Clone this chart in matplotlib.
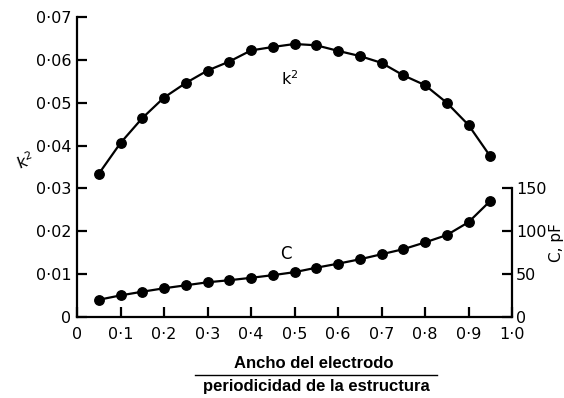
import matplotlib
matplotlib.use("Agg")
import matplotlib.pyplot as plt
from matplotlib.lines import Line2D

# Electrode width / structure period
ratio = [0.05, 0.10, 0.15, 0.20, 0.25, 0.30, 0.35, 0.40, 0.45, 0.50,
         0.55, 0.60, 0.65, 0.70, 0.75, 0.80, 0.85, 0.90, 0.95]
# Electromechanical coupling coefficient k^2
k2 = [0.0334, 0.0406, 0.0464, 0.0512, 0.0546, 0.0575, 0.0596, 0.0622, 0.0630, 0.0637,
      0.0634, 0.0621, 0.0609, 0.0593, 0.0564, 0.0541, 0.0500, 0.0448, 0.0375]
# Capacitance, pF
cap = [20.1, 25.2, 29.5, 33.5, 37.0, 40.5, 42.9, 45.7, 48.8, 52.3,
       57.5, 62.2, 67.3, 73.2, 79.1, 87.0, 95.6, 110.6, 135.4]

x_ticks = [0.0, 0.1, 0.2, 0.3, 0.4, 0.5, 0.6, 0.7, 0.8, 0.9, 1.0]
x_tick_labels = ["0", "0·1", "0·2", "0·3", "0·4", "0·5", "0·6", "0·7", "0·8", "0·9", "1·0"]
k2_ticks = [0.0, 0.01, 0.02, 0.03, 0.04, 0.05, 0.06, 0.07]
k2_tick_labels = ["0", "0·01", "0·02", "0·03", "0·04", "0·05", "0·06", "0·07"]
c_ticks = [0, 50, 100, 150]
c_tick_labels = ["0", "50", "100", "150"]

plt.rcParams["font.family"] = ["DejaVu Sans"]

fig = plt.figure(figsize=(5.64, 3.98), dpi=100)
ax = fig.add_axes([77 / 564, 1 - 317 / 398, 435 / 564, 300 / 398])
ax2 = ax.twinx()

lw = 1.6
tick_fs = 11.5

# k^2 curve
ax.plot(ratio, k2, color="black", lw=lw, marker="o", ms=6.8, clip_on=False, zorder=3)
ax.set_xlim(0, 1.0)
ax.set_ylim(0, 0.07)

# Capacitance curve on the right scale (0-150 pF spans 0-0.03 of the left)
ax2.plot(ratio, cap, color="black", lw=lw, marker="o", ms=6.8, clip_on=False, zorder=3)
ax2.set_ylim(0, 350)

for a in (ax, ax2):
    for s in a.spines.values():
        s.set_linewidth(lw)
ax.spines["top"].set_visible(False)
ax.spines["right"].set_visible(False)
ax2.spines["top"].set_visible(False)
ax2.spines["left"].set_visible(False)
ax2.spines["bottom"].set_visible(False)
ax2.spines["right"].set_bounds(0, 150)

ax.set_xticks(x_ticks)
ax.set_xticklabels(x_tick_labels, fontsize=tick_fs)
ax.set_yticks(k2_ticks)
ax.set_yticklabels(k2_tick_labels, fontsize=tick_fs)
ax.tick_params(axis="both", direction="in", length=7, width=lw, pad=7)
ax.tick_params(axis="y", pad=4)

ax2.set_yticks(c_ticks)
ax2.set_yticklabels(c_tick_labels, fontsize=tick_fs)
ax2.tick_params(axis="y", direction="in", length=7, width=lw, pad=3)

# Curve labels
ax.text(0.49, 0.0555, "k$^2$", fontsize=11.5, ha="center", va="center")
ax.text(0.48, 0.0148, "C", fontsize=12, ha="center", va="center")

# Axis titles
fig.text(25 / 564, 1 - 161 / 398, "k$^2$", fontsize=11.5, ha="center", va="center", rotation=20)
fig.text(557 / 564, 1 - 243 / 398, "C, pF", fontsize=11, ha="center", va="center", rotation=90)

fig.text(314 / 564, 1 - 364 / 398, "Ancho del electrodo", fontsize=12,
         fontweight="bold", family="Liberation Sans", ha="center", va="center")
fig.add_artist(Line2D([195 / 564, 437 / 564], [1 - 375 / 398, 1 - 375 / 398],
                      color="black", lw=1.0, transform=fig.transFigure))
fig.text(316 / 564, 1 - 387 / 398, "periodicidad de la estructura", fontsize=12,
         fontweight="bold", family="Liberation Sans", ha="center", va="center")

fig.savefig("out.png", dpi=100, facecolor="white")
